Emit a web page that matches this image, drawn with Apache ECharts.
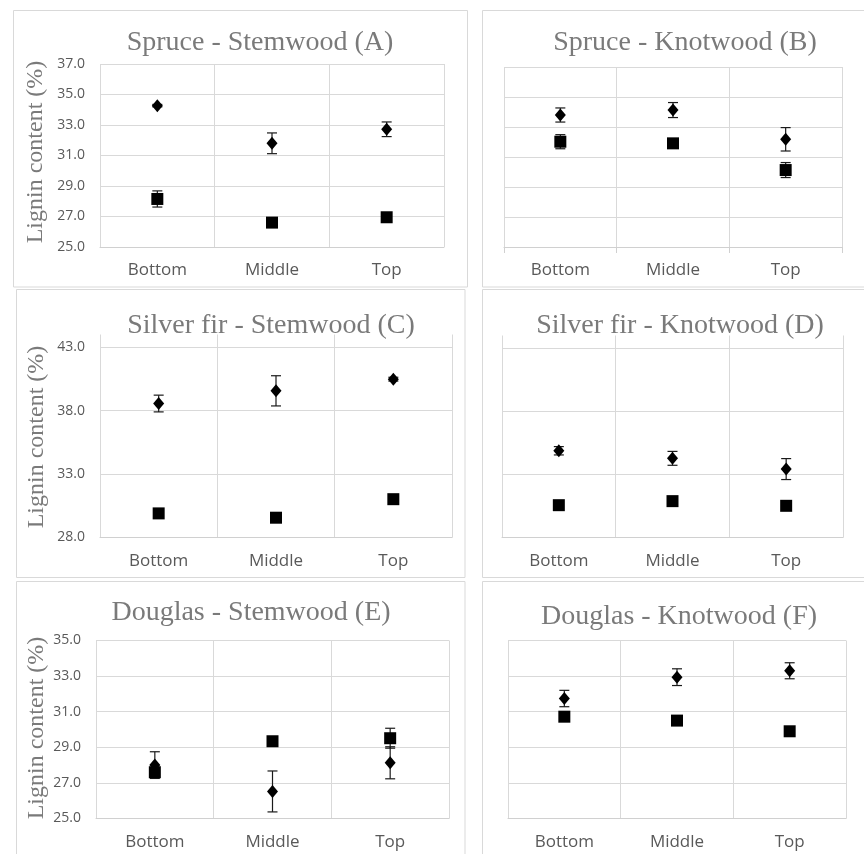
<!DOCTYPE html>
<html>
<head>
<meta charset="utf-8">
<script src="https://cdn.jsdelivr.net/npm/echarts@6/dist/echarts.min.js"></script>
<style>
  html, body { margin: 0; padding: 0; background: #ffffff; }
  #chart { width: 864px; height: 854px; }
</style>
</head>
<body>
<div id="chart"></div>
<script>
// ---- data ----
const categories = ['Bottom', 'Middle', 'Top'];
const panelTitles = [
  'Spruce - Stemwood (A)', 'Spruce - Knotwood (B)',
  'Silver fir - Stemwood (C)', 'Silver fir - Knotwood (D)',
  'Douglas - Stemwood (E)', 'Douglas - Knotwood (F)'
];
const yAxisTitle = 'Lignin content (%)';

// diamond series (mean, error) and square series (mean, error) per panel
const A_diamond = [34.27, 31.80, 32.72];
const A_diamondErr = [0.08, 0.68, 0.48];
const A_square = [28.15, 26.60, 26.95];
const A_squareErr = [0.53, 0.10, 0.10];

const B_diamond = [33.80, 34.13, 32.18];
const B_diamondErr = [0.47, 0.50, 0.78];
const B_square = [32.02, 31.91, 30.13];
const B_squareErr = [0.47, 0.10, 0.50];

const C_diamond = [38.56, 39.56, 40.48];
const C_diamondErr = [0.66, 1.19, 0.15];
const C_square = [29.90, 29.56, 31.02];
const C_squareErr = [0.10, 0.10, 0.10];

const D_diamond = [34.87, 34.27, 33.42];
const D_diamondErr = [0.33, 0.55, 0.83];
const D_square = [30.56, 30.88, 30.51];
const D_squareErr = [0.10, 0.30, 0.10];

const E_diamond = [28.00, 26.52, 28.13];
const E_diamondErr = [0.75, 1.15, 0.90];
const E_square = [27.60, 29.34, 29.51];
const E_squareErr = [0.10, 0.10, 0.56];

const F_diamond = [31.74, 32.94, 33.30];
const F_diamondErr = [0.46, 0.47, 0.45];
const F_square = [30.72, 30.50, 29.90];
const F_squareErr = [0.10, 0.10, 0.10];

// axis ranges per panel: [min, max, interval]
const A_range = [25, 37, 2];
const B_range = [25, 37, 2];
const C_range = [28, 44, 5];
const D_range = [28, 44, 5];
const E_range = [25, 35, 2];
const F_range = [25, 35, 2];

// ---- layout ----
const panels = [
  { grid: {left: 100, top: 64, width: 344, height: 183}, range: A_range, d: A_diamond, de: A_diamondErr, s: A_square, se: A_squareErr, labels: true, ticks: false, maxLine: true },
  { grid: {left: 504, top: 67, width: 338, height: 180}, range: B_range, d: B_diamond, de: B_diamondErr, s: B_square, se: B_squareErr, labels: false, ticks: true, maxLine: true },
  { grid: {left: 100, top: 334.5, width: 352, height: 203}, range: C_range, d: C_diamond, de: C_diamondErr, s: C_square, se: C_squareErr, labels: true, ticks: false, maxLine: false },
  { grid: {left: 502, top: 335.5, width: 341, height: 202}, range: D_range, d: D_diamond, de: D_diamondErr, s: D_square, se: D_squareErr, labels: false, ticks: false, maxLine: false },
  { grid: {left: 96, top: 640.5, width: 353, height: 178}, range: E_range, d: E_diamond, de: E_diamondErr, s: E_square, se: E_squareErr, labels: true, ticks: false, maxLine: true },
  { grid: {left: 508, top: 640.5, width: 338, height: 178}, range: F_range, d: F_diamond, de: F_diamondErr, s: F_square, se: F_squareErr, labels: false, ticks: false, maxLine: true }
];

const titlePos = [[260, 43], [685, 43], [271, 326], [680, 326], [251, 613], [679, 617]];
const yTitlePos = [[36, 152], [37, 437], [37, 728]];
const borders = [
  [13.5, 10.5, 454, 276.5], [482.5, 10.5, 400, 276.5],
  [16.5, 289.5, 448.5, 288], [482.5, 289.5, 400, 288],
  [16.5, 581.5, 448.5, 300], [482.5, 581.5, 400, 300]
];

const GRID_COLOR = '#d9d9d9';
const TEXT_GRAY = '#595959';
const TITLE_GRAY = '#7a7a7a';

function renderErr(params, api) {
  const x = api.value(0), m = api.value(1), e = api.value(2);
  const hi = api.coord([x, m + e]);
  const lo = api.coord([x, m - e]);
  const w = 5;
  const style = {stroke: '#1a1a1a', lineWidth: 1.2, fill: null};
  return {type: 'group', children: [
    {type: 'line', shape: {x1: hi[0], y1: hi[1], x2: lo[0], y2: lo[1]}, style: style},
    {type: 'line', shape: {x1: hi[0] - w, y1: hi[1], x2: hi[0] + w, y2: hi[1]}, style: style},
    {type: 'line', shape: {x1: lo[0] - w, y1: lo[1], x2: lo[0] + w, y2: lo[1]}, style: style}
  ]};
}

const grid = [], xAxis = [], yAxis = [], series = [];
panels.forEach(function (p, i) {
  grid.push(Object.assign({containLabel: false}, p.grid));
  xAxis.push({
    type: 'category', gridIndex: i, data: categories, boundaryGap: true,
    axisLine: {show: true, lineStyle: {color: '#d0d0d0', width: 1}},
    axisTick: {show: p.ticks, length: 6, lineStyle: {color: '#d0d0d0'}},
    axisLabel: {color: TEXT_GRAY, fontFamily: 'Open Sans', fontSize: 17, margin: 15},
    splitLine: {show: true, lineStyle: {color: GRID_COLOR, width: 1}}
  });
  yAxis.push({
    type: 'value', gridIndex: i, min: p.range[0], max: p.range[1], interval: p.range[2],
    axisLine: {show: false}, axisTick: {show: false},
    axisLabel: {
      show: p.labels, color: TEXT_GRAY, fontFamily: 'Open Sans', fontSize: 14, margin: 15,
      showMaxLabel: p.maxLine,
      formatter: function (v) { return v.toFixed(1); }
    },
    splitLine: {show: true, showMaxLine: p.maxLine, lineStyle: {color: GRID_COLOR, width: 1}}
  });
  const sqData = p.s.map(function (v, k) { return [k, v]; });
  const dmData = p.d.map(function (v, k) { return [k, v]; });
  const sqErr = p.s.map(function (v, k) { return [k, v, p.se[k]]; });
  const dmErr = p.d.map(function (v, k) { return [k, v, p.de[k]]; });
  series.push({
    type: 'custom', xAxisIndex: i, yAxisIndex: i, renderItem: renderErr,
    encode: {x: 0, y: 1}, data: sqErr, z: 3, silent: true
  });
  series.push({
    type: 'custom', xAxisIndex: i, yAxisIndex: i, renderItem: renderErr,
    encode: {x: 0, y: 1}, data: dmErr, z: 3, silent: true
  });
  series.push({
    type: 'scatter', xAxisIndex: i, yAxisIndex: i, symbol: 'rect', symbolSize: 12,
    itemStyle: {color: '#000000', opacity: 1}, data: sqData, z: 4
  });
  series.push({
    type: 'scatter', xAxisIndex: i, yAxisIndex: i, symbol: 'diamond', symbolSize: [11, 13],
    itemStyle: {color: '#000000', opacity: 1}, data: dmData, z: 5
  });
});

const graphic = [];
borders.forEach(function (b) {
  graphic.push({type: 'rect', silent: true, z: -10,
    shape: {x: b[0], y: b[1], width: b[2], height: b[3]},
    style: {fill: 'none', stroke: GRID_COLOR, lineWidth: 1}});
});
panelTitles.forEach(function (t, i) {
  graphic.push({type: 'text', silent: true, x: titlePos[i][0], y: titlePos[i][1], z: 10,
    style: {text: t, fill: TITLE_GRAY, font: '28px "Liberation Serif"', textAlign: 'center', textVerticalAlign: 'middle'}});
});
yTitlePos.forEach(function (pos) {
  graphic.push({type: 'text', silent: true, x: pos[0], y: pos[1], rotation: Math.PI / 2, z: 10,
    style: {text: yAxisTitle, fill: TITLE_GRAY, font: '24px "Liberation Serif"', textAlign: 'center', textVerticalAlign: 'middle'}});
});

const chart = echarts.init(document.getElementById('chart'), null, {renderer: 'canvas'});
chart.setOption({
  animation: false,
  backgroundColor: '#ffffff',
  grid: grid, xAxis: xAxis, yAxis: yAxis, series: series, graphic: graphic
});
</script>
</body>
</html>
